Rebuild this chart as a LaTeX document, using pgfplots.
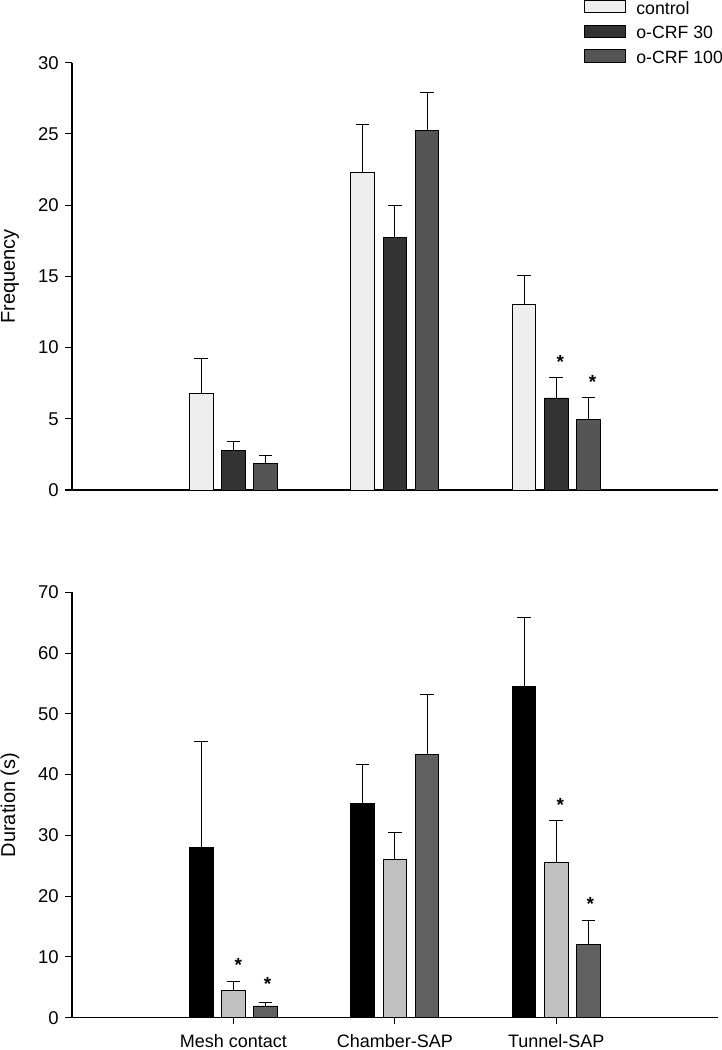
\documentclass[border=0pt]{standalone}
\usepackage{fontspec}
\setmainfont{Liberation Sans}
\usepackage{pgfplots}
\pgfplotsset{compat=1.18}

\definecolor{cctrl}{HTML}{EEEEEE}
\definecolor{cthirty}{HTML}{333333}
\definecolor{chund}{HTML}{555555}
\definecolor{dctrl}{HTML}{000000}
\definecolor{dthirty}{HTML}{C0C0C0}
\definecolor{dhund}{HTML}{606060}

\pgfplotsset{
 mystyle/.style={
  scale only axis, width=645.7pt, xmin=-1, xmax=3,
  axis x line*=bottom, axis y line*=left,
  tick align=outside, major tick length=6.7pt,
  /pgf/number format/assume math mode=true,
  tick label style={font=\fontsize{18.5}{20}\selectfont},
  yticklabel style={xshift=-3pt},
  every axis y label/.style={at={(axis description cs:-0.096,0.5)}, rotate=90, anchor=center, font=\fontsize{20}{22}\selectfont},
  axis line style={line width=1.1pt, black},
  every tick/.style={line width=1.1pt, black},
 },
 mybars/.style={ybar, bar width=23.6pt, draw=black, line width=0.9pt, bar shift=#1,
   legend image code/.code={\draw[##1] (0pt,0pt) rectangle (41pt,12.3pt); \path (51pt,0pt);},
   error bars/y dir=plus, error bars/y explicit,
   error bars/error bar style={line width=1pt, black, xshift=#1},
   error bars/error mark options={xshift=#1, rotate=90, mark size=6.8pt, line width=1pt, black}},
 stars/.style={draw=none, mark=none, forget plot, nodes near coords={*},
   every node near coord/.style={anchor=center, font=\fontsize{19}{19}\selectfont\bfseries, yshift=-4.5pt}},
}

\begin{document}
\begin{tikzpicture}
\path[use as bounding box] (-72pt,490pt) rectangle (650pt,-560pt);

\begin{axis}[mystyle, height=427.3pt, ymin=0, ymax=30, ytick={0,5,...,30},
  xtick=\empty, ylabel={Frequency},
  legend style={draw=none, fill=none, at={(rel axis cs:0.7934,1)}, anchor=north west,
    yshift=62.7pt, font=\fontsize{17.7}{20}\selectfont, row sep=0pt, inner sep=0pt,
    nodes={inner sep=0pt, text height=13pt, text depth=10.7pt}},
  legend cell align=left]
\addplot[mybars=-32.2pt, fill=cctrl] coordinates {(0,6.79) +- (0,2.41) (1,22.31) +- (0,3.34) (2,13.04) +- (0,2.01)};
\addlegendentry{control}
\addplot[mybars=0pt, fill=cthirty] coordinates {(0,2.79) +- (0,0.65) (1,17.72) +- (0,2.27) (2,6.46) +- (0,1.43)};
\addlegendentry{o-CRF 30}
\addplot[mybars=32.2pt, fill=chund] coordinates {(0,1.85) +- (0,0.56) (1,25.23) +- (0,2.65) (2,4.96) +- (0,1.50)};
\addlegendentry{o-CRF 100}
\addplot[stars] coordinates {(2.025,9.3) (2.225,7.9)};
\end{axis}

\begin{axis}[mystyle, at={(0pt,-527.7pt)}, height=425.4pt, ymin=0, ymax=70, ytick={0,10,...,70},
  xtick={0,1,2}, xticklabels={Mesh contact, Chamber-SAP, Tunnel-SAP},
  xticklabel style={font=\fontsize{18}{20}\selectfont, inner sep=0pt, yshift=-9.5pt},
  ylabel={Duration (s)}]
\addplot[mybars=-32.2pt, fill=dctrl] coordinates {(0,27.97) +- (0,17.4) (1,35.2) +- (0,6.5) (2,54.5) +- (0,11.3)};
\addplot[mybars=0pt, fill=dthirty] coordinates {(0,4.5) +- (0,1.4) (1,26.1) +- (0,4.4) (2,25.5) +- (0,6.9)};
\addplot[mybars=32.2pt, fill=dhund] coordinates {(0,1.93) +- (0,0.65) (1,43.3) +- (0,9.9) (2,12.1) +- (0,3.9)};
\addplot[stars] coordinates {(0.03,9.5) (0.211,6.37) (2.025,35.8) (2.211,19.4)};
\end{axis}
\end{tikzpicture}
\end{document}
